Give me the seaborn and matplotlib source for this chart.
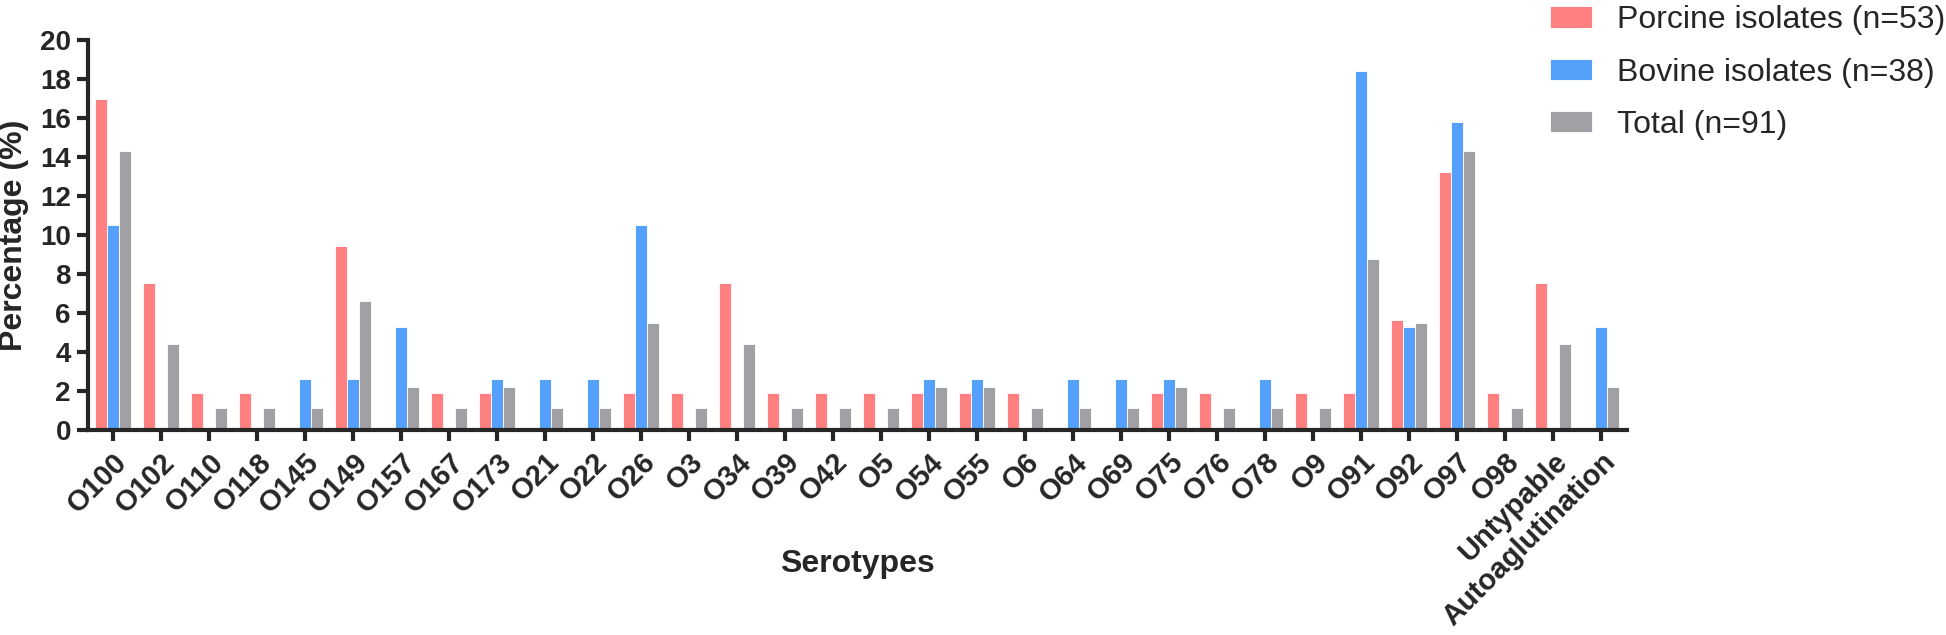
import pandas as pd
import matplotlib.pyplot as plt
import seaborn as sns

# Data (percent of isolates per serotype)
serotypes = ['O100', 'O102', 'O110', 'O118', 'O145', 'O149', 'O157', 'O167', 'O173', 'O21',
             'O22', 'O26', 'O3', 'O34', 'O39', 'O42', 'O5', 'O54', 'O55', 'O6',
             'O64', 'O69', 'O75', 'O76', 'O78', 'O9', 'O91', 'O92', 'O97', 'O98',
             'Untypable', 'Autoaglutination']

porcine = [16.98, 7.55, 1.89, 1.89, 0, 9.43, 0, 1.89, 1.89, 0,
           0, 1.89, 1.89, 7.55, 1.89, 1.89, 1.89, 1.89, 1.89, 1.89,
           0, 0, 1.89, 1.89, 0, 1.89, 1.89, 5.66, 13.21, 1.89,
           7.55, 0]

bovine = [10.53, 0, 0, 0, 2.63, 2.63, 5.26, 0, 2.63, 2.63,
          2.63, 10.53, 0, 0, 0, 0, 0, 2.63, 2.63, 0,
          2.63, 2.63, 2.63, 0, 2.63, 0, 18.42, 5.26, 15.79, 0,
          0, 5.26]

total = [14.29, 4.40, 1.10, 1.10, 1.10, 6.59, 2.20, 1.10, 2.20, 1.10,
         1.10, 5.49, 1.10, 4.40, 1.10, 1.10, 1.10, 2.20, 2.20, 1.10,
         1.10, 1.10, 2.20, 1.10, 1.10, 1.10, 8.79, 5.49, 14.29, 1.10,
         4.40, 2.20]

groups = ['Porcine isolates (n=53)', 'Bovine isolates (n=38)', 'Total (n=91)']
colors = ['#FF8080', '#55A0FA', '#A1A0A5']

df = pd.DataFrame({
    'Serotype': serotypes * 3,
    'Percentage': porcine + bovine + total,
    'Group': [groups[0]] * len(serotypes) + [groups[1]] * len(serotypes) + [groups[2]] * len(serotypes),
})

sns.set_style("ticks")
plt.rcParams['font.family'] = ['Liberation Sans', 'DejaVu Sans']

fig = plt.figure(figsize=(19.46, 6.35), dpi=100)
ax = fig.add_axes([0.045, 0.323, 0.791, 0.614])

sns.barplot(data=df, x='Serotype', y='Percentage', hue='Group', order=serotypes,
            hue_order=groups, palette=colors, saturation=1, width=0.75, gap=0,
            edgecolor='white', linewidth=0.6, ax=ax)

ax.set_xlim(-0.53, len(serotypes) - 0.47)
ax.set_ylim(0, 20)
ax.set_yticks(range(0, 21, 2))

ax.set_xlabel('Serotypes', fontsize=23, fontweight='bold', va='center')
ax.xaxis.set_label_coords(0.5, -0.345)
ax.set_ylabel('Percentage (%)', fontsize=23, fontweight='bold', va='center')
ax.yaxis.set_label_coords(-0.0475, 0.5)

sns.despine(ax=ax)
for side in ['left', 'bottom']:
    ax.spines[side].set_linewidth(3)
ax.tick_params(axis='both', which='major', length=8, width=3, direction='out')
ax.tick_params(axis='y', labelsize=20, pad=4)
ax.tick_params(axis='x', pad=5)
for lab in ax.get_yticklabels():
    lab.set_fontweight('bold')
ax.set_xticks(range(len(serotypes)))
ax.set_xticklabels(serotypes, rotation=45, ha='right', rotation_mode='anchor',
                   fontsize=21, fontweight='bold')

ax.legend_.remove()
handles = [plt.Rectangle((0, 0), 1, 1, facecolor=c, edgecolor='white', linewidth=0.6) for c in colors]
fig.legend(handles, groups, loc='upper left', bbox_to_anchor=(0.790, 1.012), frameon=False,
           fontsize=23, handlelength=1.3, handleheight=0.65, handletextpad=0.8,
           labelspacing=0.7, borderaxespad=0)

plt.savefig('out.png', dpi=100)
plt.close()
